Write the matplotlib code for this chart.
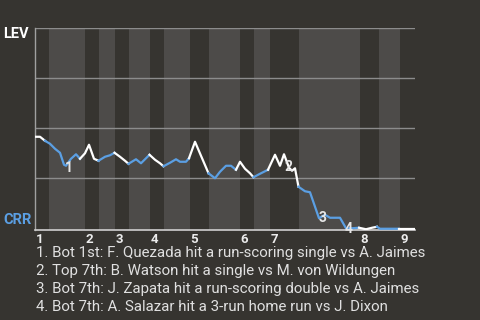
import matplotlib
matplotlib.use('Agg')
import matplotlib.pyplot as plt

# Leverage per plate appearance (x = PA index, y = leverage)
pa = [0, 1, 2, 3, 4, 5, 5.8, 6.2, 7.2, 8.2, 9, 10, 10.8, 11.8, 12.7, 14, 15, 15.9,
      17, 18, 18.7, 20.2, 21.2, 22.9, 24, 25, 25.7, 27, 28.2, 29, 30.2, 30.8, 32,
      34.7, 36, 37, 38.2, 39.2, 40.2, 41, 42, 43, 43.7, 45, 46.6, 48, 49, 49.8,
      50.8, 51.4, 52, 52.7, 54, 55, 56.8, 58, 59, 61, 62.2, 63.4, 64.8, 66.2,
      67.4, 68.4, 69, 71, 72.8, 76]
lev = [1.83, 1.83, 1.75, 1.69, 1.59, 1.51, 1.27, 1.25, 1.39, 1.48, 1.39, 1.50,
       1.67, 1.39, 1.35, 1.43, 1.46, 1.51, 1.43, 1.35, 1.29, 1.38, 1.30, 1.47,
       1.37, 1.30, 1.24, 1.31, 1.38, 1.33, 1.33, 1.40, 1.73, 1.10, 1.00, 1.13,
       1.25, 1.25, 1.17, 1.33, 1.19, 1.10, 1.02, 1.09, 1.17, 1.47, 1.25, 1.48,
       1.21, 1.15, 1.20, 0.83, 0.74, 0.72, 0.20, 0.27, 0.21, 0.21, 0.0, 0.0,
       0.01, -0.02, 0.01, 0.03, -0.01, -0.01, -0.01, -0.01]

# half-inning boundaries (top, bottom, top, bottom, ...)
halves = [0, 2.8, 10, 12.8, 16, 18.8, 23, 25.8, 31, 34.8, 41, 43.8, 47, 52.8,
          65, 68.8, 73, 76]
innings = ['1', '2', '3', '4', '5', '6', '7', '8', '9']

# numbered events on the line
ev_x = [6.8, 50.7, 57.6, 62.8]
ev_y = [1.20, 1.23, 0.21, -0.01]
ev_text = [
    '1. Bot 1st: F. Quezada hit a run-scoring single vs A. Jaimes',
    '2. Top 7th: B. Watson hit a single vs M. von Wildungen',
    '3. Bot 7th: J. Zapata hit a run-scoring double vs A. Jaimes',
    '4. Bot 7th: A. Salazar hit a 3-run home run vs J. Dixon',
]

bg = '#363430'
band = '#4d4b49'
blue = '#5b9fe3'
white = '#ffffff'

plt.rcParams['font.family'] = ['Roboto', 'DejaVu Sans']

fig = plt.figure(figsize=(4.8, 3.2), dpi=100, facecolor=bg)
ax = fig.add_axes([35 / 480, 1 - 230 / 320, 380 / 480, 201.7 / 320])
ax.set_facecolor(bg)
ax.set_xlim(halves[0], halves[-1])
ax.set_ylim(-0.035, 4)

# bottom halves are shaded
for i in range(1, len(halves) - 1, 2):
    ax.axvspan(halves[i], halves[i + 1], color=band, lw=0, zorder=0)

for g in [1, 2, 3, 4]:
    ax.axhline(g, color='#8c8c8c', lw=1, zorder=1)


def half_of(x):
    for i in range(len(halves) - 1):
        if halves[i] <= x < halves[i + 1]:
            return i
    return len(halves) - 2


# colour each segment by the half-inning of its end point
seg_x, seg_y = [pa[0]], [lev[0]]
cur = half_of(pa[1]) % 2
for i in range(1, len(pa)):
    c = half_of(pa[i]) % 2
    if c != cur:
        ax.plot(seg_x, seg_y, color=blue if cur else white, lw=1.6,
                solid_joinstyle='round', zorder=3)
        seg_x, seg_y = [pa[i - 1]], [lev[i - 1]]
        cur = c
    seg_x.append(pa[i])
    seg_y.append(lev[i])
ax.plot(seg_x, seg_y, color=blue if cur else white, lw=1.6,
        solid_joinstyle='round', zorder=3)

for x, y, n in zip(ev_x, ev_y, range(1, 5)):
    ax.text(x, y, str(n), color='#e6e6e6', fontsize=10, fontweight='bold',
            ha='center', va='center', zorder=4)

for sp in ['top', 'right']:
    ax.spines[sp].set_visible(False)
ax.spines['left'].set_color('#a0a0a0')
ax.spines['bottom'].set_color('#d0d0d0')
ax.spines['left'].set_linewidth(1)
ax.spines['bottom'].set_linewidth(1.2)
ax.set_xticks([])
ax.set_yticks([])

# inning numbers at start of each inning
for k, lab in enumerate(innings):
    ax.annotate(lab, xy=(halves[2 * k], 0), xycoords=('data', 'axes fraction'),
                xytext=(0.5, -2), textcoords='offset points',
                ha='left', va='top', color='#ececec', fontsize=9.5,
                fontweight='bold')

fig.text(3 / 480, 1 - 34 / 320, 'LEV', color='white', fontsize=10.5,
         fontweight='bold', ha='left', va='center')
fig.text(3 / 480, 1 - 220 / 320, 'CRR', color=blue, fontsize=10.5,
         fontweight='bold', ha='left', va='center')

for j, t in enumerate(ev_text):
    fig.text(36 / 480, 1 - (253 + 18 * j) / 320, t, color='#e0e0e0',
             fontsize=10.8, ha='left', va='center')

fig.savefig('out.png', dpi=100, facecolor=bg)
